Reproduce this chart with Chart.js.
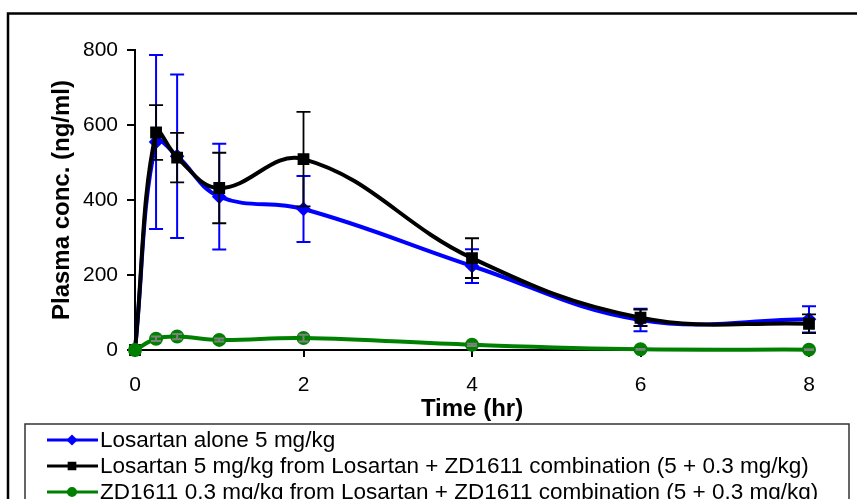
<!DOCTYPE html>
<html lang="en">
<head>
    <meta charset="UTF-8">
    <title>Plasma concentration of Losartan and ZD1611</title>
    <script src="https://cdn.jsdelivr.net/npm/chart.js"></script>
    <style>
        body {
            margin: 0;
            background: #fff;
        }
        #chart-container {
            width: 857px;
            height: 499px;
        }
    </style>
</head>
<body>
    <div id="chart-container">
        <canvas id="plasmaChart" width="857" height="499"></canvas>
    </div>

    <script>
        // Time points (hr)
        const timeHr = [0, 0.25, 0.5, 1, 2, 4, 6, 8];

        // Losartan alone 5 mg/kg
        const losartanAlone = [0, 555, 517, 409, 376, 224, 80, 82];
        const losartanAloneErr = [0, 232, 218, 141, 88, 45, 30, 35];

        // Losartan from the combination
        const losartanCombo = [0, 580, 513, 432, 509, 245, 86, 70];
        const losartanComboErr = [0, 73, 66, 94, 126, 53, 22, 25];

        // ZD1611 from the combination
        const zd1611 = [0, 30, 36, 27, 32, 14, 2, 1];
        const zd1611Err = [0, 6, 7, 4, 9, 3, 1, 1];

        const seriesLabels = [
            'Losartan alone 5 mg/kg',
            'Losartan 5 mg/kg from Losartan + ZD1611 combination (5 + 0.3 mg/kg)',
            'ZD1611 0.3 mg/kg from Losartan + ZD1611 combination (5 + 0.3 mg/kg)'
        ];
        const seriesColors = ['#0000ff', '#000000', '#008000'];
        const errColors = ['#0000ff', '#000000', '#808080'];
        const markerStyles = ['rectRot', 'rect', 'circle'];

        const yTicks = [0, 200, 400, 600, 800];
        const xTicks = [0, 2, 4, 6, 8];

        const FONT = '"Liberation Sans", Arial, sans-serif';

        function points(values) {
            return values.map((v, i) => ({ x: timeHr[i], y: v }));
        }

        // Error bars, drawn right after each dataset so the stacking matches
        const errorBars = {
            id: 'errorBars',
            afterDatasetDraw(chart, args) {
                const ds = chart.data.datasets[args.index];
                if (!ds.errors) return;
                const ctx = chart.ctx;
                const xs = chart.scales.x, ys = chart.scales.y;
                ctx.save();
                ctx.strokeStyle = ds.errorColor;
                ctx.lineWidth = ds.errorWidth;
                ds.data.forEach((p, i) => {
                    const e = ds.errors[i];
                    if (!e) return;
                    const px = xs.getPixelForValue(p.x);
                    const top = ys.getPixelForValue(p.y + e);
                    const bot = ys.getPixelForValue(Math.max(p.y - e, 0));
                    const cap = ds.capHalf;
                    ctx.beginPath();
                    ctx.moveTo(px, top); ctx.lineTo(px, bot);
                    ctx.moveTo(px - cap, top); ctx.lineTo(px + cap, top);
                    ctx.moveTo(px - cap, bot); ctx.lineTo(px + cap, bot);
                    ctx.stroke();
                });
                ctx.restore();
            }
        };

        // Outer frame and the boxed legend under the chart
        const frameAndLegend = {
            id: 'frameAndLegend',
            afterDraw(chart) {
                const ctx = chart.ctx;
                ctx.save();
                ctx.strokeStyle = '#000';
                ctx.lineWidth = 2.5;
                ctx.beginPath();
                ctx.moveTo(8, 499); ctx.lineTo(8, 13.5); ctx.lineTo(857, 13.5);
                ctx.stroke();

                ctx.lineWidth = 1.5;
                ctx.strokeStyle = '#333';
                ctx.strokeRect(25, 424, 824, 100);

                const rows = [440, 466, 492];
                seriesLabels.forEach((label, i) => {
                    const y = rows[i];
                    ctx.strokeStyle = seriesColors[i];
                    ctx.lineWidth = 3;
                    ctx.beginPath();
                    ctx.moveTo(47, y); ctx.lineTo(98, y);
                    ctx.stroke();
                    Chart.helpers.drawPoint(ctx, {
                        pointStyle: markerStyles[i],
                        radius: i === 1 ? 4 : 3.5,
                        borderWidth: 1
                    }, 72, y);
                    ctx.fillStyle = seriesColors[i];
                    ctx.fill();
                    ctx.fillStyle = '#000';
                    ctx.font = '22.5px ' + FONT;
                    ctx.textBaseline = 'middle';
                    ctx.fillText(label, 100, y + 1);
                });
                ctx.restore();
            }
        };

        const ctx = document.getElementById('plasmaChart').getContext('2d');
        const plasmaChart = new Chart(ctx, {
            type: 'line',
            data: {
                datasets: [
                    {
                        label: seriesLabels[0],
                        data: points(losartanAlone),
                        errors: losartanAloneErr,
                        errorColor: errColors[0], errorWidth: 2, capHalf: 7,
                        borderColor: seriesColors[0],
                        backgroundColor: seriesColors[0],
                        borderWidth: 4,
                        pointStyle: markerStyles[0],
                        pointRadius: 4.5,
                        order: 3
                    },
                    {
                        label: seriesLabels[1],
                        data: points(losartanCombo),
                        errors: losartanComboErr,
                        errorColor: errColors[1], errorWidth: 1.8, capHalf: 7,
                        borderColor: seriesColors[1],
                        backgroundColor: seriesColors[1],
                        borderWidth: 4,
                        pointStyle: markerStyles[1],
                        pointRadius: 5.5,
                        order: 2
                    },
                    {
                        label: seriesLabels[2],
                        data: points(zd1611),
                        errors: zd1611Err,
                        errorColor: errColors[2], errorWidth: 2, capHalf: 5,
                        borderColor: seriesColors[2],
                        backgroundColor: seriesColors[2],
                        borderWidth: 4,
                        pointStyle: markerStyles[2],
                        pointRadius: 5,
                        order: 1
                    }
                ]
            },
            options: {
                responsive: false,
                animation: false,
                devicePixelRatio: 1,
                layout: {
                    padding: { left: 48, right: 48, top: 50, bottom: 75 }
                },
                datasets: {
                    line: { clip: false }
                },
                elements: {
                    line: { tension: 0.4 },
                    point: { borderWidth: 0 }
                },
                plugins: {
                    legend: { display: false },
                    tooltip: { enabled: false }
                },
                scales: {
                    x: {
                        type: 'linear',
                        min: 0,
                        max: 8,
                        afterFit: s => { s.height = 74; },
                        afterBuildTicks: s => { s.ticks = xTicks.map(v => ({ value: v })); },
                        border: { color: '#000', width: 2 },
                        grid: { drawOnChartArea: false, drawTicks: true, tickLength: 7, color: '#000', lineWidth: 2 },
                        ticks: { color: '#000', padding: 16, font: { family: FONT, size: 21 } },
                        title: {
                            display: true,
                            text: 'Time (hr)',
                            color: '#000',
                            padding: 0,
                            font: { family: FONT, size: 24, weight: 'bold' }
                        }
                    },
                    y: {
                        min: 0,
                        max: 800,
                        afterFit: s => { s.width = 87; },
                        afterBuildTicks: s => { s.ticks = yTicks.map(v => ({ value: v })); },
                        border: { color: '#000', width: 2 },
                        grid: { drawOnChartArea: false, drawTicks: true, tickLength: 8, color: '#000', lineWidth: 2 },
                        ticks: { color: '#000', padding: 9, font: { family: FONT, size: 21 } },
                        title: {
                            display: true,
                            text: 'Plasma conc. (ng/ml)',
                            color: '#000',
                            padding: 0,
                            font: { family: FONT, size: 24, weight: 'bold' }
                        }
                    }
                }
            },
            plugins: [errorBars, frameAndLegend]
        });
    </script>
</body>
</html>
